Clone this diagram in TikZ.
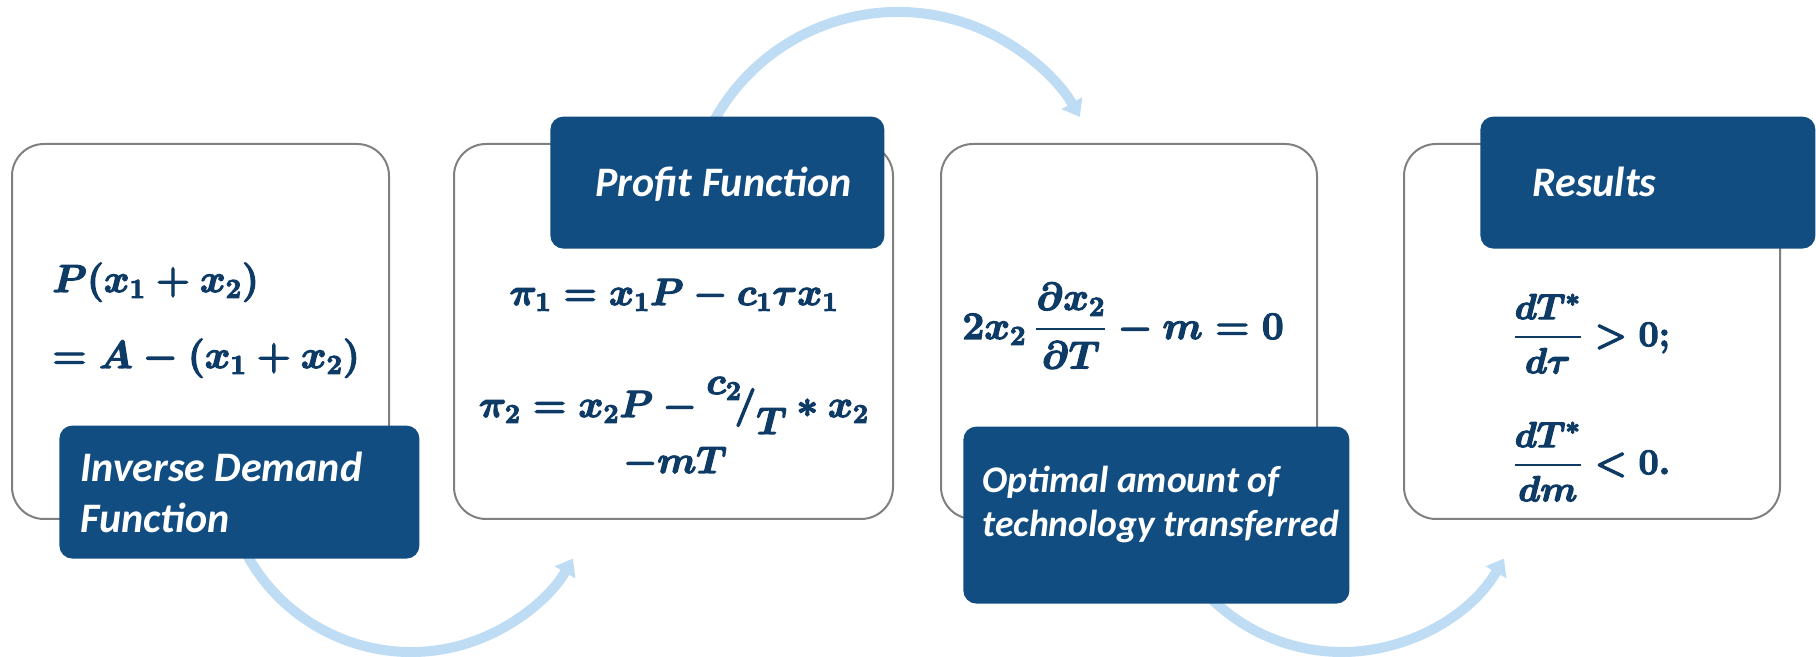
\RequirePackage{fix-cm}
\documentclass[tikz,border=0pt]{standalone}
\usepackage{amsmath}
\usepackage[no-math]{fontspec}
\setmainfont{Carlito}
\usetikzlibrary{arrows.meta}

\definecolor{panelblue}{HTML}{124D81}
\definecolor{mathblue}{HTML}{0E3B66}
\definecolor{flowblue}{HTML}{BFDCF5}
\definecolor{framegray}{HTML}{808080}

% heavier formulas: fill and outline the glyphs
\newcommand\heavymath[1]{\special{pdf:literal direct 2 Tr 0.6 w}#1\special{pdf:literal direct 0 Tr}}

\tikzset{
  card/.style={draw=framegray, line width=1pt, fill=white, rounded corners=16pt,
    anchor=south west, inner sep=0pt, minimum height=187.5pt},
  tag/.style={fill=panelblue, rounded corners=6.5pt, anchor=south west, inner sep=0pt},
  tagtext/.style={text=white, inner sep=0pt, anchor=base west, align=left},
  eq/.style={text=mathblue, inner sep=0pt},
  flow/.style={draw=flowblue, line width=5pt, -{Triangle[length=8pt,width=11.5pt]}},
}

\begin{document}
\begin{tikzpicture}[x=0.5pt, y=0.5pt]
\useasboundingbox (0,0) rectangle (1816,657);

% white cards with grey frames
\node[card, minimum width=188.5pt] (card1) at (11,137) {};
\node[card, minimum width=219.5pt] (card2) at (453,137) {};
\node[card, minimum width=188pt]   (card3) at (940,137) {};
\node[card, minimum width=188pt]   (card4) at (1403,137) {};

% curved flow arrows, starting underneath the title tags
\coordinate (arcA) at (411,192);
\coordinate (arcB) at (898,435);
\coordinate (arcC) at (1342,192);
\draw[flow] ([shift={(200:93.5pt)}]arcA) arc[start angle=200, end angle=330, radius=93.5pt];
\draw[flow] ([shift={(155:105pt)}]arcB) arc[start angle=155, end angle=30, radius=105pt];
\draw[flow] ([shift={(215:93.5pt)}]arcC) arc[start angle=215, end angle=330, radius=93.5pt];

% title tags
\node[tag, minimum width=180pt,   minimum height=66.5pt] (tag1) at (59,98) {};
\node[tag, minimum width=167pt,   minimum height=66pt]   (tag2) at (550,408) {};
\node[tag, minimum width=193pt,   minimum height=88.5pt] (tag3) at (963,53) {};
\node[tag, minimum width=167.5pt, minimum height=66pt]   (tag4) at (1480,408) {};

% (the base anchor of a two-line title sits on its last line)
\node[tagtext, font=\bfseries\itshape\fontsize{21}{25.5}\selectfont] (title1) at (80,124)
  {Inverse Demand\\Function};
\node[tagtext, font=\bfseries\itshape\fontsize{21}{25.5}\selectfont] (title2) at (595,460)
  {Profit Function};
\node[tagtext, font=\bfseries\itshape\fontsize{18.8}{22}\selectfont] (title3) at (982,120)
  {Optimal amount of\\technology transferred};
\node[tagtext, font=\bfseries\itshape\fontsize{21}{25.5}\selectfont] (title4) at (1532,460)
  {Results};

% formulas
\begin{scope}[every node/.append style={eq}]
\node[anchor=base west, font=\fontsize{19.5}{24}\selectfont\boldmath] (inv1) at (52,365)
  {\heavymath{$P(x_1+x_2)$}};
\node[anchor=base west, font=\fontsize{19.5}{24}\selectfont\boldmath] (inv2) at (52,289)
  {\heavymath{$=A-(x_1+x_2)$}};

\node[anchor=base, font=\fontsize{19}{22}\selectfont\boldmath] (prof1) at (674,352)
  {\heavymath{$\pi_1 = x_1P - c_1\tau x_1$}};
\node[anchor=base, font=\fontsize{19}{22}\selectfont\boldmath] (prof2) at (674,240)
  {\heavymath{$\pi_2 = x_2P - \raisebox{11.5pt}{$c_2$}\!/\raisebox{-8.5pt}{$T$} \ast x_2$}};
\node[anchor=base, font=\fontsize{19}{22}\selectfont\boldmath] (prof3) at (675,184)
  {\heavymath{$-mT$}};

\node[anchor=base west, font=\fontsize{19.5}{24}\selectfont\boldmath] (opt) at (962,318)
  {\heavymath{$2x_2\,\dfrac{\partial x_2}{\partial T} - m = 0$}};

\node[anchor=base west, font=\fontsize{18}{21}\selectfont\boldmath] (res1) at (1512,311)
  {\heavymath{$\dfrac{dT^*}{d\tau} > 0;$}};
\node[anchor=base west, font=\fontsize{18}{21}\selectfont\boldmath] (res2) at (1512,183)
  {\heavymath{$\dfrac{dT^*}{dm} < 0.$}};
\end{scope}
\end{tikzpicture}
\end{document}
